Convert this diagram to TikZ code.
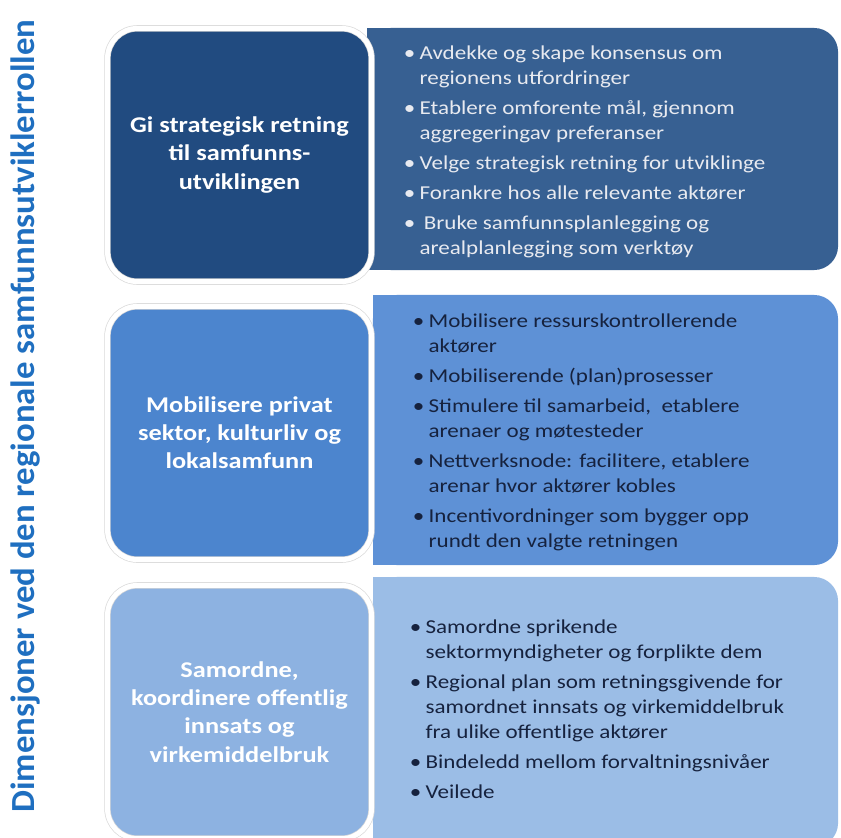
\documentclass[tikz,border=0pt]{standalone}
\usepackage{fontspec}
\setmainfont[FakeStretch=1.17]{Carlito}
\newfontfamily\titlefont[FakeStretch=1.03]{Carlito}
\usetikzlibrary{positioning}

\definecolor{titleblue}{RGB}{31,111,192}
\definecolor{darkbox}{RGB}{33,75,128}
\definecolor{darkpanel}{RGB}{55,96,146}
\definecolor{midbox}{RGB}{76,133,206}
\definecolor{midpanel}{RGB}{94,145,214}
\definecolor{lightbox}{RGB}{141,178,225}
\definecolor{lightpanel}{RGB}{155,189,230}
\definecolor{paletext}{RGB}{232,234,240}
\definecolor{inktext}{RGB}{22,34,62}

\begin{document}
\begin{tikzpicture}[x=0.025cm,y=-0.025cm,
    dimbox/.style={rounded corners=0.75cm, draw=black!15, double=white, double distance=3.5pt,
        line width=0.5pt, minimum width=6.6cm, minimum height=6.33cm, align=center,
        text=white, font=\bfseries\fontsize{16}{20}\selectfont},
    panel/.style={rounded corners=0.6cm, minimum height=6.75cm, minimum width=11.625cm, inner sep=0},
    itemlist/.style={anchor=west, inner sep=0, font=\fontsize{14}{17.8}\selectfont},
    title/.style={rotate=90, text=titleblue, font=\titlefont\bfseries\fontsize{24}{28}\selectfont}]
    \useasboundingbox (0,0) rectangle (841,837);

    % panels behind
    \node[panel, fill=darkpanel, minimum width=11.775cm, minimum height=6.05cm] (p1) at (602.5,149) {};
    \node[panel, fill=midpanel] (p2) at (605.5,430) {};
    \node[panel, fill=lightpanel] (p3) at (605.5,712) {};
    \fill[darkpanel] (p1.north west) rectangle ([xshift=1cm]p1.south west);
    \fill[midpanel] (p2.north west) rectangle ([xshift=1cm]p2.south west);
    \fill[lightpanel] (p3.north west) rectangle ([xshift=1cm]p3.south west);

    % dimensions
    \node[dimbox, fill=darkbox] (b1) at (239.5,155) {Gi strategisk retning\\til samfunns-\\utviklingen};
    \node[dimbox, fill=midbox] (b2) at (239.5,433) {Mobilisere privat\\sektor, kulturliv og\\lokalsamfunn};
    \node[dimbox, fill=lightbox] (b3) at (239.5,712) {Samordne,\\koordinere offentlig\\innsats og\\virkemiddelbruk};

    \node[title] (ttl) at (26,416) {Dimensjoner ved den regionale samfunnsutviklerrollen};

    % bullet lists
    \node[itemlist, text=paletext] (l1) at ([xshift=0.925cm,yshift=-0.075cm]p1.west) {%
      \begin{tabular}{@{}l@{\hspace{3pt}}l@{}}
      \textbullet & Avdekke og skape konsensus om\\
                  & regionens utfordringer\\[3.5pt]
      \textbullet & Etablere omforente mål, gjennom\\
                  & aggregeringav preferanser\\[3.5pt]
      \textbullet & Velge strategisk retning for utviklinge\\[3.5pt]
      \textbullet & Forankre hos alle relevante aktører\\[3.5pt]
      \textbullet & \hspace{3pt}Bruke samfunnsplanlegging og\\
                  & arealplanlegging som verktøy
      \end{tabular}};
    \node[itemlist, text=inktext] (l2) at ([xshift=1cm,yshift=-0.06cm]p2.west) {%
      \begin{tabular}{@{}l@{\hspace{3pt}}l@{}}
      \textbullet & Mobilisere ressurskontrollerende\\
                  & aktører\\[3.5pt]
      \textbullet & Mobiliserende (plan)prosesser\\[3.5pt]
      \textbullet & Stimulere til samarbeid, \ etablere\\
                  & arenaer og møtesteder\\[3.5pt]
      \textbullet & Nettverksnode: facilitere, etablere\\
                  & arenar hvor aktører kobles\\[3.5pt]
      \textbullet & Incentivordninger som bygger opp\\
                  & rundt den valgte retningen
      \end{tabular}};
    \node[itemlist, text=inktext] (l3) at ([xshift=0.925cm,yshift=0.02cm]p3.west) {%
      \begin{tabular}{@{}l@{\hspace{3pt}}l@{}}
      \textbullet & Samordne sprikende\\
                  & sektormyndigheter og forplikte dem\\[3.5pt]
      \textbullet & Regional plan som retningsgivende for\\
                  & samordnet innsats og virkemiddelbruk\\
                  & fra ulike offentlige aktører\\[3.5pt]
      \textbullet & Bindeledd mellom forvaltningsnivåer\\[3.5pt]
      \textbullet & Veilede
      \end{tabular}};
\end{tikzpicture}
\end{document}
